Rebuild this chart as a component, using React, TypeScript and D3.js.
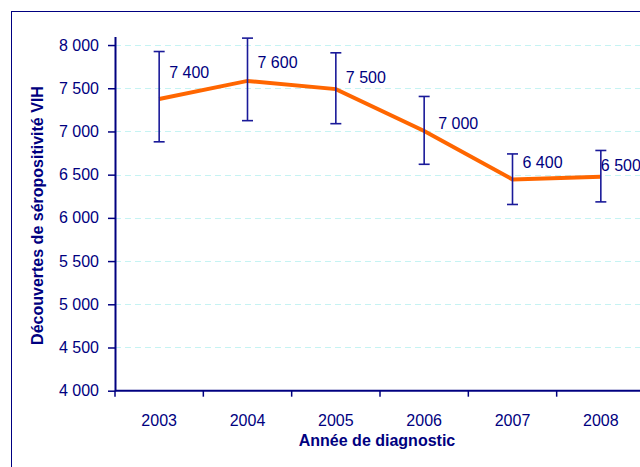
import { useEffect, useRef } from "react";
import * as d3 from "d3";

const years = ["2003", "2004", "2005", "2006", "2007", "2008"];
const values = [7375, 7585, 7490, 7005, 6445, 6475];
const labels = ["7 400", "7 600", "7 500", "7 000", "6 400", "6 500"];
const errorLow = [6880, 7125, 7090, 6620, 6155, 6185];
const errorHigh = [7925, 8080, 7910, 7405, 6740, 6780];
const yTicks = [4000, 4500, 5000, 5500, 6000, 6500, 7000, 7500, 8000];
// manual label nudges, as in the source chart
const labelOffsets: [number, number][] = [
  [10, -21],
  [10, -13],
  [10, -6],
  [14, -2],
  [10, -11],
  [0, -6],
];

const NAVY = "#000080";
const FONT = "'Liberation Sans', Arial, sans-serif";

export default function App() {
  const svgRef = useRef<SVGSVGElement>(null);

  useEffect(() => {
    if (!svgRef.current) return;
    const svg = d3.select(svgRef.current);
    svg.selectAll("*").remove();

    const left = 115;
    const right = 645;
    const top = 36.4;
    const bottom = 390.7;

    const x = d3.scaleBand().domain(years).range([left, right]).padding(0);
    const y = d3.scaleLinear().domain([4000, 8100]).range([bottom, top]);
    const cx = (year: string) => (x(year) ?? 0) + x.bandwidth() / 2;

    // outer frame
    svg
      .append("rect")
      .attr("x", 11.5)
      .attr("y", 11.5)
      .attr("width", 700)
      .attr("height", 500)
      .attr("fill", "none")
      .attr("stroke", NAVY)
      .attr("stroke-width", 1);

    // grid
    svg
      .append("g")
      .selectAll("line")
      .data(yTicks.filter((t) => t > 4000))
      .enter()
      .append("line")
      .attr("x1", left)
      .attr("x2", right)
      .attr("y1", (d) => Math.round(y(d)) + 0.5)
      .attr("y2", (d) => Math.round(y(d)) + 0.5)
      .attr("stroke", "#c6f3f3")
      .attr("stroke-dasharray", "6 4");

    // y axis
    const yAxis = svg
      .append("g")
      .attr("transform", `translate(${left},0)`)
      .call(
        d3
          .axisLeft(y)
          .tickValues(yTicks)
          .tickSize(7)
          .tickSizeOuter(0)
          .tickPadding(9)
          .tickFormat((v) => d3.format(",")(v as number).replace(",", " ")),
      );
    yAxis.select(".domain").attr("stroke", NAVY).attr("stroke-width", 2);
    yAxis.selectAll(".tick line").attr("stroke", NAVY).attr("stroke-width", 1.5);
    yAxis
      .selectAll(".tick text")
      .attr("fill", NAVY)
      .style("font-family", FONT)
      .style("font-size", "16px");

    // x axis
    const xAxis = svg.append("g");
    xAxis
      .append("line")
      .attr("x1", left)
      .attr("x2", right)
      .attr("y1", bottom)
      .attr("y2", bottom)
      .attr("stroke", NAVY)
      .attr("stroke-width", 2);
    xAxis
      .selectAll(".xtick")
      .data(years)
      .enter()
      .append("line")
      .attr("x1", (d) => x(d) ?? 0)
      .attr("x2", (d) => x(d) ?? 0)
      .attr("y1", bottom)
      .attr("y2", bottom + 6)
      .attr("stroke", NAVY)
      .attr("stroke-width", 1.5);
    xAxis
      .selectAll(".xlabel")
      .data(years)
      .enter()
      .append("text")
      .attr("x", (d) => cx(d))
      .attr("y", 425.5)
      .attr("text-anchor", "middle")
      .attr("fill", NAVY)
      .style("font-family", FONT)
      .style("font-size", "16px")
      .text((d) => d);

    // axis titles
    svg
      .append("text")
      .attr("x", 377)
      .attr("y", 446)
      .attr("text-anchor", "middle")
      .attr("fill", NAVY)
      .style("font-family", FONT)
      .style("font-size", "16px")
      .style("font-weight", "bold")
      .text("Année de diagnostic");
    svg
      .append("text")
      .attr("transform", "translate(43,215.5) rotate(-90)")
      .attr("text-anchor", "middle")
      .attr("fill", NAVY)
      .style("font-family", FONT)
      .style("font-size", "16px")
      .style("font-weight", "bold")
      .text("Découvertes de séropositivité VIH");

    // line
    const line = d3
      .line<number>()
      .x((_, i) => cx(years[i]))
      .y((d) => y(d));
    svg
      .append("path")
      .datum(values)
      .attr("d", line)
      .attr("fill", "none")
      .attr("stroke", "#ff6600")
      .attr("stroke-width", 4);

    // error bars
    const bars = svg.append("g").attr("stroke", "#1a1a99").attr("stroke-width", 1.6);
    years.forEach((year, i) => {
      const px = cx(year);
      bars.append("line").attr("x1", px).attr("x2", px).attr("y1", y(errorHigh[i])).attr("y2", y(errorLow[i]));
      [errorHigh[i], errorLow[i]].forEach((v) => {
        bars
          .append("line")
          .attr("x1", px - 5.5)
          .attr("x2", px + 5.5)
          .attr("y1", y(v))
          .attr("y2", y(v));
      });
    });

    // data labels
    svg
      .append("g")
      .selectAll("text")
      .data(labels)
      .enter()
      .append("text")
      .attr("x", (_, i) => cx(years[i]) + labelOffsets[i][0])
      .attr("y", (_, i) => y(values[i]) + labelOffsets[i][1])
      .attr("fill", NAVY)
      .style("font-family", FONT)
      .style("font-size", "16px")
      .text((d) => d);
  }, []);

  return (
    <svg
      ref={svgRef}
      width={640}
      height={467}
      style={{ position: "absolute", left: 0, top: 0, background: "#fff" }}
    />
  );
}
